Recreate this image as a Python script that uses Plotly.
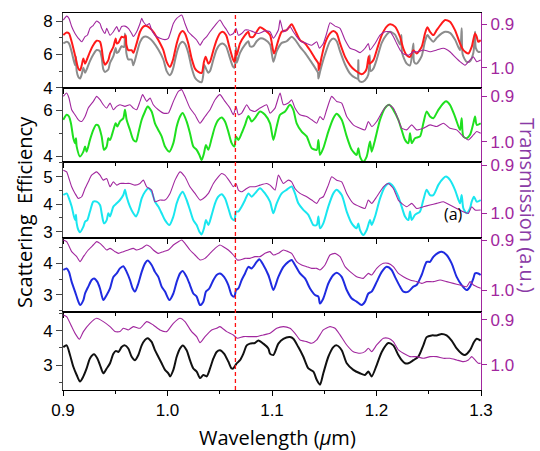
import plotly.graph_objects as go

# ---------------- data (wavelength in um) ----------------
red_pts = [(0.9003,7.17),(0.9035,7.33),(0.9057,7.27),(0.9083,6.77),(0.9115,5.96),(0.9147,5.15),(0.9163,5.05),(0.9179,5.35),(0.9195,5.76),(0.9211,5.45),(0.9233,5.76),(0.9258,6.16),(0.9290,6.57),(0.9322,6.83),(0.9354,6.77),(0.9370,6.36),(0.9386,5.66),(0.9402,5.39),(0.9434,5.66),(0.9450,6.06),(0.9482,6.46),(0.9504,6.97),(0.9514,6.67),(0.9530,6.71),(0.9561,7.07),(0.9584,7.03),(0.9600,7.15),(0.9606,6.60),(0.9625,6.26),(0.9657,6.26),(0.9673,6.10),(0.9705,6.67),(0.9737,7.37),(0.9769,7.68),(0.9801,7.72),(0.9833,7.58),(0.9864,7.37),(0.9912,6.87),(0.9960,6.26),(0.9992,5.56),(1.0024,5.25),(1.0040,5.45),(1.0056,5.76),(1.0088,6.67),(1.0120,7.27),(1.0145,7.41),(1.0167,7.27),(1.0199,6.67),(1.0231,5.76),(1.0263,5.15),(1.0295,4.95),(1.0327,4.89),(1.0349,5.56),(1.0365,5.86),(1.0391,5.45),(1.0407,5.56),(1.0439,6.26),(1.0470,6.87),(1.0502,7.27),(1.0528,7.37),(1.0560,7.17),(1.0592,6.46),(1.0624,5.76),(1.0640,5.56),(1.0656,6.16),(1.0662,5.96),(1.0694,6.67),(1.0742,7.17),(1.0774,7.37),(1.0789,7.07),(1.0821,7.07),(1.0853,7.37),(1.0885,7.64),(1.0933,7.47),(1.0981,7.17),(1.1019,6.06),(1.1061,6.87),(1.1093,7.37),(1.1140,7.47),(1.1188,7.82),(1.1220,7.47),(1.1268,6.87),(1.1316,6.67),(1.1364,6.26),(1.1412,5.76),(1.1444,5.45),(1.1447,5.05),(1.1475,5.86),(1.1507,6.67),(1.1555,7.27),(1.1587,7.41),(1.1619,7.27),(1.1651,6.67),(1.1699,5.86),(1.1747,5.35),(1.1794,5.05),(1.1842,4.85),(1.1858,4.81),(1.1890,4.95),(1.1906,5.15),(1.1925,5.90),(1.1932,5.45),(1.1970,5.66),(1.2002,6.26),(1.2050,7.17),(1.2097,7.68),(1.2129,7.82),(1.2177,7.68),(1.2225,7.07),(1.2257,6.36),(1.2289,5.96),(1.2321,5.86),(1.2353,6.26),(1.2384,6.06),(1.2432,6.46),(1.2464,7.27),(1.2487,7.64),(1.2512,7.37),(1.2544,7.17),(1.2576,7.47),(1.2624,7.88),(1.2656,8.08),(1.2703,7.98),(1.2751,7.47),(1.2799,6.67),(1.2831,6.26),(1.2879,6.06),(1.2911,6.46),(1.2943,7.27),(1.2959,7.07),(1.2974,6.77),(1.2997,6.87)]

gray_pts = [(0.9003,6.67),(0.9035,6.77),(0.9057,6.67),(0.9083,6.16),(0.9115,5.35),(0.9124,5.86),(0.9131,5.00),(0.9147,4.65),(0.9163,4.55),(0.9179,4.80),(0.9195,5.20),(0.9211,4.90),(0.9233,5.20),(0.9258,5.60),(0.9290,6.00),(0.9322,6.27),(0.9354,6.20),(0.9370,5.80),(0.9386,5.10),(0.9402,4.95),(0.9434,5.10),(0.9450,5.50),(0.9482,5.90),(0.9504,6.40),(0.9514,6.10),(0.9530,6.15),(0.9561,6.50),(0.9584,6.45),(0.9593,7.27),(0.9603,6.50),(0.9606,6.10),(0.9625,5.70),(0.9657,5.70),(0.9673,5.35),(0.9705,6.05),(0.9737,6.75),(0.9769,7.05),(0.9801,7.07),(0.9833,6.95),(0.9864,6.75),(0.9912,6.30),(0.9960,5.70),(0.9992,5.00),(1.0024,4.75),(1.0040,4.90),(1.0056,5.20),(1.0088,6.10),(1.0120,6.65),(1.0145,6.77),(1.0167,6.65),(1.0199,6.10),(1.0231,5.20),(1.0263,4.60),(1.0295,4.40),(1.0327,4.34),(1.0343,4.80),(1.0349,5.40),(1.0365,5.20),(1.0391,4.90),(1.0407,5.00),(1.0439,5.70),(1.0470,6.30),(1.0502,6.60),(1.0528,6.67),(1.0560,6.50),(1.0592,5.90),(1.0624,5.30),(1.0640,5.20),(1.0656,6.46),(1.0662,5.50),(1.0694,6.10),(1.0742,6.60),(1.0774,6.80),(1.0789,6.50),(1.0821,6.50),(1.0853,6.80),(1.0885,6.97),(1.0933,6.90),(1.0981,6.60),(1.1013,5.56),(1.1045,6.20),(1.1093,6.70),(1.1140,6.80),(1.1188,7.07),(1.1220,6.90),(1.1268,6.46),(1.1316,6.10),(1.1364,5.66),(1.1412,5.20),(1.1440,4.90),(1.1444,4.55),(1.1459,4.95),(1.1507,6.00),(1.1555,6.80),(1.1587,6.97),(1.1619,6.80),(1.1651,6.20),(1.1699,5.40),(1.1747,4.85),(1.1794,4.60),(1.1822,4.55),(1.1826,5.66),(1.1830,4.45),(1.1858,4.34),(1.1890,4.45),(1.1922,4.80),(1.1935,5.96),(1.1944,5.00),(1.1970,5.15),(1.2002,5.70),(1.2050,6.70),(1.2097,7.20),(1.2129,7.37),(1.2177,7.20),(1.2225,6.60),(1.2238,7.17),(1.2245,6.10),(1.2289,5.45),(1.2321,5.35),(1.2353,6.67),(1.2360,5.55),(1.2384,5.45),(1.2432,5.90),(1.2464,6.80),(1.2487,7.17),(1.2512,6.97),(1.2544,6.77),(1.2576,7.00),(1.2624,7.27),(1.2656,7.37),(1.2703,7.30),(1.2751,6.90),(1.2799,6.26),(1.2815,7.58),(1.2825,6.00),(1.2863,5.56),(1.2895,5.60),(1.2927,6.10),(1.2943,7.37),(1.2950,6.40),(1.2974,6.16),(1.2997,6.16)]

trans1_pts = [(0.9003,0.890),(0.9035,0.881),(0.9057,0.886),(0.9083,0.905),(0.9115,0.921),(0.9147,0.932),(0.9179,0.940),(0.9211,0.928),(0.9233,0.925),(0.9258,0.909),(0.9290,0.902),(0.9322,0.892),(0.9354,0.898),(0.9370,0.909),(0.9402,0.921),(0.9418,0.909),(0.9450,0.925),(0.9482,0.917),(0.9514,0.905),(0.9536,0.917),(0.9561,0.905),(0.9593,0.904),(0.9625,0.909),(0.9657,0.921),(0.9673,0.928),(0.9705,0.917),(0.9737,0.898),(0.9753,0.886),(0.9769,0.894),(0.9801,0.902),(0.9826,0.898),(0.9848,0.913),(0.9880,0.925),(0.9928,0.932),(0.9976,0.935),(1.0008,0.932),(1.0056,0.898),(1.0088,0.886),(1.0136,0.8785),(1.0167,0.898),(1.0199,0.917),(1.0231,0.925),(1.0279,0.936),(1.0311,0.948),(1.0343,0.936),(1.0375,0.928),(1.0407,0.917),(1.0455,0.902),(1.0502,0.890),(1.0534,0.902),(1.0566,0.913),(1.0598,0.925),(1.0630,0.921),(1.0656,0.909),(1.0678,0.925),(1.0710,0.921),(1.0742,0.913),(1.0774,0.913),(1.0821,0.917),(1.0869,0.921),(1.0933,0.915),(1.0981,0.917),(1.1013,0.932),(1.1061,0.913),(1.1077,0.890),(1.1109,0.917),(1.1140,0.913),(1.1172,0.905),(1.1204,0.917),(1.1236,0.928),(1.1284,0.940),(1.1332,0.944),(1.1380,0.948),(1.1428,0.940),(1.1453,0.955),(1.1491,0.944),(1.1523,0.921),(1.1555,0.896),(1.1603,0.904),(1.1651,0.909),(1.1699,0.936),(1.1747,0.955),(1.1794,0.959),(1.1842,0.965),(1.1890,0.955),(1.1922,0.944),(1.1938,0.959),(1.1986,0.944),(1.2034,0.925),(1.2081,0.917),(1.2129,0.917),(1.2161,0.928),(1.2193,0.944),(1.2225,0.959),(1.2257,0.968),(1.2305,0.971),(1.2353,0.963),(1.2400,0.963),(1.2448,0.959),(1.2512,0.963),(1.2576,0.959),(1.2640,0.955),(1.2703,0.963),(1.2751,0.975),(1.2799,0.986),(1.2847,0.994),(1.2895,0.982),(1.2927,0.975),(1.2959,0.986),(1.2997,0.982)]

green_pts = [(0.9003,5.58),(0.9035,5.80),(0.9057,5.72),(0.9076,5.43),(0.9099,4.78),(0.9115,4.57),(0.9124,4.78),(0.9131,4.42),(0.9163,3.99),(0.9195,4.20),(0.9211,4.42),(0.9226,4.20),(0.9258,4.71),(0.9290,5.14),(0.9316,5.36),(0.9338,5.33),(0.9370,4.86),(0.9392,4.28),(0.9418,4.42),(0.9434,4.78),(0.9450,4.71),(0.9482,5.14),(0.9504,5.43),(0.9520,5.29),(0.9545,5.51),(0.9577,5.65),(0.9593,6.01),(0.9609,5.58),(0.9641,5.14),(0.9673,4.71),(0.9699,4.64),(0.9721,5.00),(0.9753,5.58),(0.9785,5.94),(0.9810,6.16),(0.9848,5.94),(0.9880,5.43),(0.9912,5.14),(0.9944,4.86),(0.9976,4.42),(1.0018,4.20),(1.0056,4.57),(1.0088,5.29),(1.0120,5.72),(1.0145,5.87),(1.0183,5.51),(1.0215,5.00),(1.0247,4.42),(1.0279,4.28),(1.0305,4.06),(1.0327,3.84),(1.0349,4.13),(1.0368,4.49),(1.0391,4.28),(1.0423,4.78),(1.0455,5.29),(1.0486,5.58),(1.0518,5.68),(1.0550,5.51),(1.0582,5.07),(1.0614,4.57),(1.0640,4.42),(1.0656,4.86),(1.0678,4.71),(1.0710,5.00),(1.0742,5.36),(1.0774,5.75),(1.0805,5.51),(1.0837,5.65),(1.0885,5.94),(1.0933,5.80),(1.0981,5.43),(1.1013,4.71),(1.1045,5.29),(1.1077,5.80),(1.1125,5.94),(1.1172,6.23),(1.1204,6.01),(1.1236,5.43),(1.1284,5.07),(1.1332,4.86),(1.1380,4.35),(1.1428,4.28),(1.1444,4.71),(1.1459,4.06),(1.1491,4.35),(1.1539,5.07),(1.1587,5.65),(1.1619,5.84),(1.1667,5.58),(1.1715,4.86),(1.1763,4.28),(1.1810,4.06),(1.1826,4.35),(1.1842,3.99),(1.1874,3.77),(1.1906,3.99),(1.1938,4.64),(1.1954,4.20),(1.1986,4.71),(1.2034,5.58),(1.2081,6.09),(1.2123,6.23),(1.2161,6.01),(1.2209,5.58),(1.2241,5.14),(1.2273,4.71),(1.2305,4.57),(1.2321,5.00),(1.2337,4.57),(1.2368,4.78),(1.2416,4.86),(1.2448,5.43),(1.2480,5.94),(1.2512,5.72),(1.2544,5.65),(1.2592,6.01),(1.2640,6.30),(1.2665,6.38),(1.2703,6.23),(1.2751,5.72),(1.2799,5.14),(1.2815,5.65),(1.2831,4.86),(1.2863,4.78),(1.2895,4.93),(1.2927,5.43),(1.2943,5.72),(1.2959,5.36),(1.2997,5.43)]

trans2_pts = [(0.9003,0.9007),(0.9035,0.8934),(0.9057,0.9044),(0.9083,0.9302),(0.9115,0.9412),(0.9147,0.9522),(0.9179,0.9559),(0.9211,0.9449),(0.9242,0.9265),(0.9290,0.9118),(0.9322,0.9007),(0.9354,0.9081),(0.9386,0.9191),(0.9418,0.9265),(0.9450,0.9155),(0.9482,0.9302),(0.9514,0.9228),(0.9545,0.9191),(0.9593,0.9228),(0.9641,0.9191),(0.9673,0.9265),(0.9705,0.9302),(0.9737,0.9118),(0.9762,0.8970),(0.9801,0.9118),(0.9833,0.9044),(0.9864,0.9191),(0.9912,0.9302),(0.9960,0.9375),(1.0008,0.9375),(1.0056,0.9118),(1.0104,0.8897),(1.0136,0.8860),(1.0167,0.9007),(1.0215,0.9265),(1.0263,0.9412),(1.0311,0.9596),(1.0359,0.9449),(1.0407,0.9302),(1.0455,0.9081),(1.0502,0.8970),(1.0550,0.9118),(1.0598,0.9265),(1.0630,0.9412),(1.0656,0.9228),(1.0678,0.9412),(1.0710,0.9375),(1.0758,0.9191),(1.0789,0.9302),(1.0837,0.9339),(1.0885,0.9265),(1.0949,0.9191),(1.0981,0.9375),(1.1029,0.9265),(1.1077,0.8934),(1.1109,0.9191),(1.1156,0.9155),(1.1188,0.9081),(1.1220,0.9265),(1.1268,0.9412),(1.1332,0.9449),(1.1380,0.9522),(1.1428,0.9596),(1.1459,0.9449),(1.1491,0.9522),(1.1523,0.9302),(1.1571,0.9007),(1.1619,0.9118),(1.1667,0.9155),(1.1715,0.9449),(1.1778,0.9633),(1.1842,0.9706),(1.1890,0.9743),(1.1922,0.9559),(1.1954,0.9670),(1.2002,0.9559),(1.2066,0.9302),(1.2113,0.9191),(1.2161,0.9265),(1.2209,0.9522),(1.2241,0.9706),(1.2289,0.9743),(1.2337,0.9633),(1.2384,0.9743),(1.2448,0.9706),(1.2512,0.9633),(1.2576,0.9670),(1.2640,0.9596),(1.2703,0.9706),(1.2767,0.9743),(1.2831,0.9890),(1.2879,0.9964),(1.2927,0.9854),(1.2959,0.9780),(1.2997,0.9817)]

cyan_pts = [(0.9003,4.33),(0.9035,4.39),(0.9057,4.21),(0.9083,3.91),(0.9105,3.55),(0.9118,3.42),(0.9124,3.61),(0.9131,3.30),(0.9147,3.06),(0.9163,2.98),(0.9195,3.18),(0.9211,3.36),(0.9233,3.42),(0.9258,3.73),(0.9290,4.09),(0.9322,4.09),(0.9354,3.97),(0.9370,3.67),(0.9392,3.30),(0.9418,3.42),(0.9434,3.67),(0.9450,3.55),(0.9482,3.91),(0.9514,4.03),(0.9545,4.15),(0.9577,4.33),(0.9593,4.52),(0.9609,4.27),(0.9641,3.91),(0.9673,3.67),(0.9699,3.55),(0.9721,3.73),(0.9753,4.21),(0.9785,4.45),(0.9817,4.58),(0.9848,4.45),(0.9880,4.09),(0.9912,3.91),(0.9944,3.67),(0.9976,3.42),(1.0018,3.24),(1.0056,3.55),(1.0088,4.03),(1.0120,4.33),(1.0145,4.45),(1.0183,4.15),(1.0215,3.79),(1.0247,3.42),(1.0279,3.24),(1.0305,3.00),(1.0327,2.90),(1.0349,3.12),(1.0368,3.42),(1.0391,3.24),(1.0423,3.61),(1.0455,4.03),(1.0486,4.27),(1.0518,4.36),(1.0550,4.21),(1.0582,3.85),(1.0614,3.48),(1.0640,3.42),(1.0656,3.73),(1.0678,3.73),(1.0710,3.91),(1.0742,4.15),(1.0774,4.39),(1.0805,4.27),(1.0837,4.39),(1.0885,4.58),(1.0933,4.39),(1.0981,4.09),(1.1013,3.67),(1.1045,4.03),(1.1093,4.39),(1.1140,4.52),(1.1188,4.64),(1.1220,4.39),(1.1252,4.03),(1.1300,3.79),(1.1348,3.61),(1.1396,3.24),(1.1428,3.24),(1.1444,3.55),(1.1459,3.12),(1.1491,3.30),(1.1539,3.91),(1.1587,4.39),(1.1619,4.52),(1.1667,4.33),(1.1715,3.73),(1.1763,3.30),(1.1810,3.12),(1.1826,3.30),(1.1842,3.06),(1.1874,2.88),(1.1906,3.06),(1.1938,3.42),(1.1954,3.24),(1.1986,3.55),(1.2034,4.21),(1.2081,4.64),(1.2123,4.76),(1.2161,4.64),(1.2209,4.27),(1.2241,3.91),(1.2273,3.55),(1.2305,3.42),(1.2321,3.73),(1.2337,3.42),(1.2368,3.61),(1.2416,3.73),(1.2448,4.15),(1.2480,4.52),(1.2512,4.33),(1.2544,4.33),(1.2592,4.70),(1.2640,4.94),(1.2665,5.00),(1.2703,4.88),(1.2751,4.52),(1.2799,4.03),(1.2815,4.33),(1.2831,3.85),(1.2863,3.67),(1.2895,3.85),(1.2911,4.09),(1.2933,4.27),(1.2959,4.09),(1.2997,4.15)]

trans3_pts = [(0.9003,0.9103),(0.9035,0.9138),(0.9057,0.9276),(0.9083,0.9448),(0.9115,0.9586),(0.9147,0.9690),(0.9179,0.9655),(0.9211,0.9483),(0.9242,0.9345),(0.9274,0.9207),(0.9322,0.9138),(0.9354,0.9207),(0.9386,0.9310),(0.9418,0.9276),(0.9450,0.9448),(0.9482,0.9345),(0.9514,0.9414),(0.9545,0.9379),(0.9593,0.9379),(0.9641,0.9379),(0.9689,0.9414),(0.9737,0.9379),(0.9769,0.9310),(0.9801,0.9448),(0.9848,0.9517),(0.9880,0.9759),(0.9928,0.9724),(0.9976,0.9724),(1.0024,0.9586),(1.0072,0.9310),(1.0120,0.9138),(1.0167,0.9241),(1.0215,0.9448),(1.0263,0.9586),(1.0311,0.9724),(1.0343,0.9690),(1.0391,0.9586),(1.0439,0.9379),(1.0486,0.9241),(1.0518,0.9172),(1.0550,0.9207),(1.0598,0.9345),(1.0630,0.9448),(1.0656,0.9379),(1.0678,0.9517),(1.0710,0.9552),(1.0758,0.9483),(1.0789,0.9448),(1.0837,0.9448),(1.0885,0.9414),(1.0949,0.9379),(1.0981,0.9414),(1.1029,0.9517),(1.1061,0.9207),(1.1109,0.9379),(1.1156,0.9310),(1.1188,0.9345),(1.1220,0.9483),(1.1268,0.9586),(1.1332,0.9655),(1.1380,0.9724),(1.1428,0.9793),(1.1459,0.9690),(1.1491,0.9655),(1.1539,0.9414),(1.1571,0.9241),(1.1619,0.9310),(1.1667,0.9345),(1.1715,0.9586),(1.1778,0.9793),(1.1842,0.9862),(1.1890,0.9897),(1.1922,0.9724),(1.1954,0.9793),(1.2002,0.9655),(1.2066,0.9448),(1.2113,0.9379),(1.2161,0.9483),(1.2209,0.9724),(1.2241,0.9793),(1.2289,0.9862),(1.2337,0.9793),(1.2384,0.9897),(1.2448,0.9862),(1.2512,0.9828),(1.2576,0.9793),(1.2640,0.9759),(1.2703,0.9828),(1.2767,0.9897),(1.2831,0.9966),(1.2879,1.0000),(1.2911,0.9862),(1.2943,0.9931),(1.2997,0.9931)]

blue_pts = [(0.9003,3.79),(0.9035,3.84),(0.9057,3.73),(0.9083,3.41),(0.9115,3.10),(0.9147,2.78),(0.9163,2.67),(0.9195,2.83),(0.9211,3.04),(0.9242,3.26),(0.9274,3.47),(0.9297,3.52),(0.9329,3.41),(0.9354,3.20),(0.9386,2.83),(0.9418,2.99),(0.9450,3.20),(0.9482,3.57),(0.9514,3.68),(0.9545,3.84),(0.9577,3.91),(0.9609,3.73),(0.9641,3.47),(0.9667,3.20),(0.9689,3.10),(0.9721,3.36),(0.9753,3.73),(0.9785,4.00),(0.9810,4.09),(0.9848,3.95),(0.9880,3.73),(0.9912,3.57),(0.9944,3.26),(0.9976,3.10),(1.0018,2.83),(1.0056,3.04),(1.0088,3.41),(1.0120,3.68),(1.0145,3.76),(1.0183,3.57),(1.0215,3.31),(1.0247,3.04),(1.0279,2.94),(1.0311,2.67),(1.0343,2.78),(1.0368,3.10),(1.0400,3.20),(1.0439,3.47),(1.0470,3.63),(1.0502,3.68),(1.0541,3.57),(1.0582,3.31),(1.0614,2.99),(1.0640,2.94),(1.0656,3.15),(1.0678,3.20),(1.0710,3.47),(1.0742,3.68),(1.0774,3.89),(1.0805,3.84),(1.0853,4.05),(1.0879,4.13),(1.0917,3.95),(1.0965,3.63),(1.0981,3.47),(1.1013,3.15),(1.1061,3.57),(1.1109,3.89),(1.1156,4.05),(1.1188,4.11),(1.1220,3.95),(1.1268,3.68),(1.1316,3.52),(1.1364,3.20),(1.1412,2.99),(1.1444,2.94),(1.1459,2.72),(1.1491,2.88),(1.1539,3.36),(1.1587,3.63),(1.1619,3.70),(1.1667,3.57),(1.1715,3.15),(1.1763,2.88),(1.1810,2.78),(1.1858,2.67),(1.1890,2.78),(1.1922,3.04),(1.1954,3.10),(1.2002,3.41),(1.2050,3.73),(1.2097,3.89),(1.2145,3.79),(1.2177,3.57),(1.2225,3.26),(1.2257,3.10),(1.2305,3.10),(1.2353,3.26),(1.2384,3.31),(1.2432,3.63),(1.2480,4.05),(1.2512,4.05),(1.2544,4.21),(1.2592,4.34),(1.2624,4.37),(1.2671,4.27),(1.2719,4.00),(1.2767,3.57),(1.2815,3.31),(1.2863,3.15),(1.2895,3.26),(1.2927,3.52),(1.2943,3.68),(1.2974,3.68),(1.2997,3.63)]

trans4_pts = [(0.9003,0.9000),(0.9035,0.9033),(0.9083,0.9233),(0.9131,0.9333),(0.9163,0.9433),(0.9195,0.9333),(0.9242,0.9200),(0.9290,0.9100),(0.9322,0.9033),(0.9354,0.9067),(0.9386,0.9133),(0.9418,0.9200),(0.9450,0.9167),(0.9498,0.9233),(0.9530,0.9267),(0.9577,0.9233),(0.9625,0.9200),(0.9673,0.9167),(0.9705,0.9200),(0.9753,0.9167),(0.9801,0.9100),(0.9833,0.9133),(0.9864,0.9200),(0.9912,0.9267),(0.9960,0.9233),(1.0008,0.9200),(1.0056,0.9100),(1.0104,0.9033),(1.0136,0.9000),(1.0167,0.9067),(1.0215,0.9200),(1.0263,0.9300),(1.0311,0.9400),(1.0359,0.9367),(1.0407,0.9267),(1.0455,0.9167),(1.0502,0.9100),(1.0534,0.9133),(1.0582,0.9200),(1.0630,0.9300),(1.0668,0.9400),(1.0694,0.9400),(1.0742,0.9367),(1.0789,0.9367),(1.0837,0.9333),(1.0885,0.9333),(1.0933,0.9267),(1.0981,0.9233),(1.1013,0.9300),(1.1061,0.9267),(1.1109,0.9200),(1.1156,0.9233),(1.1188,0.9267),(1.1236,0.9433),(1.1284,0.9500),(1.1332,0.9533),(1.1380,0.9567),(1.1428,0.9567),(1.1459,0.9600),(1.1507,0.9500),(1.1555,0.9300),(1.1603,0.9267),(1.1651,0.9333),(1.1699,0.9533),(1.1747,0.9633),(1.1810,0.9733),(1.1874,0.9767),(1.1922,0.9667),(1.1954,0.9700),(1.2002,0.9567),(1.2066,0.9467),(1.2113,0.9467),(1.2161,0.9533),(1.2209,0.9667),(1.2257,0.9733),(1.2321,0.9800),(1.2384,0.9833),(1.2432,0.9867),(1.2480,0.9833),(1.2544,0.9833),(1.2608,0.9800),(1.2671,0.9833),(1.2735,0.9867),(1.2799,0.9900),(1.2863,0.9933),(1.2895,0.9833),(1.2927,0.9900),(1.2959,0.9933),(1.2997,0.9967)]

black_pts = [(0.9003,3.52),(0.9035,3.57),(0.9067,3.29),(0.9099,2.95),(0.9131,2.71),(0.9163,2.52),(0.9195,2.67),(0.9226,2.90),(0.9258,3.19),(0.9297,3.31),(0.9329,3.19),(0.9354,3.00),(0.9386,2.76),(0.9418,2.90),(0.9450,3.05),(0.9482,3.33),(0.9507,3.41),(0.9530,3.38),(0.9561,3.52),(0.9593,3.57),(0.9625,3.48),(0.9657,3.24),(0.9689,3.14),(0.9721,3.29),(0.9753,3.57),(0.9785,3.73),(0.9810,3.78),(0.9848,3.67),(0.9880,3.43),(0.9912,3.24),(0.9944,3.05),(0.9976,2.86),(1.0008,2.76),(1.0024,2.67),(1.0056,2.86),(1.0088,3.24),(1.0120,3.48),(1.0145,3.57),(1.0183,3.43),(1.0215,3.14),(1.0247,2.90),(1.0279,2.81),(1.0311,2.62),(1.0343,2.71),(1.0375,2.67),(1.0407,2.90),(1.0439,3.19),(1.0470,3.38),(1.0502,3.43),(1.0541,3.33),(1.0582,3.10),(1.0614,2.90),(1.0630,2.90),(1.0662,3.05),(1.0694,3.14),(1.0726,3.33),(1.0758,3.57),(1.0789,3.62),(1.0837,3.64),(1.0869,3.71),(1.0917,3.62),(1.0965,3.48),(1.0981,3.33),(1.1013,3.29),(1.1061,3.62),(1.1109,3.76),(1.1172,3.81),(1.1204,3.76),(1.1252,3.52),(1.1300,3.24),(1.1348,2.90),(1.1396,2.81),(1.1428,2.57),(1.1459,2.43),(1.1491,2.76),(1.1539,3.24),(1.1587,3.52),(1.1619,3.57),(1.1667,3.43),(1.1715,3.05),(1.1778,2.86),(1.1842,2.76),(1.1890,2.71),(1.1922,2.81),(1.1954,2.67),(1.2002,3.00),(1.2050,3.38),(1.2113,3.64),(1.2161,3.57),(1.2209,3.29),(1.2241,3.14),(1.2273,3.05),(1.2305,3.05),(1.2353,3.14),(1.2400,3.24),(1.2448,3.57),(1.2480,3.81),(1.2528,3.86),(1.2576,3.86),(1.2624,3.90),(1.2671,3.86),(1.2719,3.71),(1.2767,3.48),(1.2815,3.33),(1.2847,3.29),(1.2895,3.43),(1.2933,3.67),(1.2959,3.76),(1.2997,3.71)]

trans5_pts = [(0.9003,0.8889),(0.9035,0.8926),(0.9083,0.9148),(0.9115,0.9296),(0.9157,0.9430),(0.9195,0.9259),(0.9258,0.9074),(0.9322,0.8963),(0.9386,0.9037),(0.9450,0.9148),(0.9498,0.9259),(0.9545,0.9259),(0.9577,0.9185),(0.9625,0.9222),(0.9673,0.9148),(0.9737,0.9185),(0.9801,0.9037),(0.9864,0.9111),(0.9928,0.9222),(0.9992,0.9259),(1.0056,0.9074),(1.0120,0.8963),(1.0167,0.9037),(1.0231,0.9259),(1.0279,0.9370),(1.0311,0.9504),(1.0359,0.9370),(1.0423,0.9222),(1.0470,0.9185),(1.0502,0.9148),(1.0566,0.9259),(1.0630,0.9333),(1.0668,0.9407),(1.0726,0.9370),(1.0789,0.9370),(1.0853,0.9370),(1.0917,0.9333),(1.0981,0.9296),(1.1045,0.9185),(1.1109,0.9148),(1.1172,0.9185),(1.1220,0.9296),(1.1268,0.9444),(1.1332,0.9481),(1.1380,0.9519),(1.1428,0.9444),(1.1491,0.9222),(1.1555,0.9148),(1.1603,0.9185),(1.1651,0.9333),(1.1715,0.9556),(1.1778,0.9704),(1.1842,0.9741),(1.1890,0.9704),(1.1922,0.9630),(1.1954,0.9704),(1.2002,0.9556),(1.2066,0.9407),(1.2113,0.9407),(1.2161,0.9481),(1.2209,0.9667),(1.2257,0.9741),(1.2321,0.9815),(1.2384,0.9815),(1.2448,0.9852),(1.2512,0.9815),(1.2576,0.9815),(1.2640,0.9852),(1.2703,0.9852),(1.2767,0.9889),(1.2831,0.9926),(1.2879,0.9889),(1.2911,0.9815),(1.2943,0.9889),(1.2974,0.9963),(1.2997,0.9963)]

dashed_wavelength = 1.065
x_ticks = [0.9, 1.0, 1.1, 1.2, 1.3]
t_ticks = [0.9, 1.0]

# ---------------- style ----------------
PURPLE = "#a1279e"
TITLE_PURPLE = "#8a3aa6"
TICKFONT = dict(family="Liberation Sans, Arial, sans-serif", size=17, color="black")
W, H = 540, 451
X0, X1 = 63 / W, 481 / W
tops = [12.7, 87.7, 162.3, 237.7, 312.3]
bots = [87.7, 162.3, 237.7, 312.3, 390.0]

panels = [
    dict(series=[(gray_pts, "#8c8c8c"), (red_pts, "#ff1a1a")], trans=trans1_pts,
         yrange=[4.0, 8.52], tick0=4, dtick=2, minor=1, trange=[1.046, 0.873]),
    dict(series=[(green_pts, "#1fe01f")], trans=trans2_pts,
         yrange=[3.74, 6.97], tick0=4, dtick=2, minor=1, trange=[1.0455, 0.8817]),
    dict(series=[(cyan_pts, "#19e6ef")], trans=trans3_pts,
         yrange=[2.78, 5.52], tick0=3, dtick=1, minor=0.5, trange=[1.0505, 0.894]),
    dict(series=[(blue_pts, "#1f2be0")], trans=trans4_pts,
         yrange=[2.44, 4.82], tick0=3, dtick=1, minor=0.5, trange=[1.0446, 0.8954]),
    dict(series=[(black_pts, "#111111")], trans=trans5_pts,
         yrange=[2.275, 4.53], tick0=3, dtick=1, minor=0.5, trange=[1.0556, 0.883]),
]

fig = go.Figure()
layout = {}
for i, p in enumerate(panels):
    n = i + 1
    xname = "x" if n == 1 else f"x{n}"
    ylname = "y" if n == 1 else f"y{2 * n - 1}"
    yrname = f"y{2 * n}"
    dom = [1 - bots[i] / H, 1 - tops[i] / H]
    for pts, col in p["series"]:
        fig.add_trace(go.Scatter(x=[a for a, _ in pts], y=[b for _, b in pts], mode="lines",
                                 line=dict(color=col, width=2, shape="spline", smoothing=0.7),
                                 xaxis=xname, yaxis=ylname, showlegend=False, hoverinfo="skip"))
    fig.add_trace(go.Scatter(x=[a for a, _ in p["trans"]], y=[b for _, b in p["trans"]], mode="lines",
                             line=dict(color=PURPLE, width=1.1, shape="spline", smoothing=0.5),
                             xaxis=xname, yaxis=yrname, showlegend=False, hoverinfo="skip"))
    layout["xaxis" if n == 1 else f"xaxis{n}"] = dict(
        domain=[X0, X1], anchor=ylname, range=[0.9, 1.3], showline=True, mirror=True,
        linecolor="black", linewidth=1, ticks="outside", ticklen=5, tickwidth=1, tickcolor="black",
        tickmode="array", tickvals=x_ticks, ticktext=[f"{v:.1f}" for v in x_ticks],
        minor=dict(dtick=0.05, tick0=0.9, ticks="outside", ticklen=3, tickcolor="black"),
        showticklabels=(n == 5), tickfont=TICKFONT, showgrid=False, zeroline=False,
        automargin=False)
    layout["yaxis" if n == 1 else f"yaxis{2 * n - 1}"] = dict(
        domain=dom, anchor=xname, range=p["yrange"], tickmode="linear", tick0=p["tick0"],
        dtick=p["dtick"], ticks="outside", ticklen=6, tickwidth=1, tickcolor="#444",
        minor=dict(dtick=p["minor"], tick0=p["tick0"], ticks="outside", ticklen=3, tickcolor="#444"),
        showline=True, linecolor="#444", linewidth=1, mirror=False, tickfont=TICKFONT,
        showgrid=False, zeroline=False, automargin=False)
    layout[f"yaxis{2 * n}"] = dict(
        overlaying=ylname, side="right", anchor=xname, range=p["trange"],
        tickmode="array", tickvals=t_ticks, ticktext=["0.9", "1.0"], ticks="outside",
        ticklen=5, tickwidth=1, tickcolor=PURPLE, showline=True, linecolor=PURPLE, linewidth=1.2,
        tickfont=dict(family=TICKFONT["family"], size=17, color=PURPLE),
        showgrid=False, zeroline=False, automargin=False)

fig.update_layout(**layout)
fig.add_shape(type="line", xref="x", yref="paper", x0=dashed_wavelength, x1=dashed_wavelength,
              y0=1 - bots[-1] / H, y1=1 - tops[0] / H,
              line=dict(color="#ff1010", width=1.3, dash="4px,3px"))

TITLEFONT = "Open Sans, Noto Sans, sans-serif"
fig.add_annotation(text="Scattering  Efficiency", x=24 / W, y=1 - 212 / H, xref="paper", yref="paper",
                   textangle=-90, showarrow=False, xanchor="center", yanchor="middle",
                   font=dict(family=TITLEFONT, size=20, color="black"))
fig.add_annotation(text="Transmission (a.u.)", x=528 / W, y=1 - 205 / H, xref="paper", yref="paper",
                   textangle=90, showarrow=False, xanchor="center", yanchor="middle",
                   font=dict(family=TITLEFONT, size=20, color=TITLE_PURPLE))
fig.add_annotation(text="Wavelength (<i>μ</i>m)", x=277.5 / W, y=1 - 437 / H, xref="paper", yref="paper",
                   showarrow=False, xanchor="center", yanchor="middle",
                   font=dict(family=TITLEFONT, size=20, color="black"))
fig.add_annotation(text="(a)", x=453 / W, y=1 - 214 / H, xref="paper", yref="paper",
                   showarrow=False, xanchor="center", yanchor="middle",
                   font=dict(family=TITLEFONT, size=16, color="black"))

fig.update_layout(width=W, height=H, margin=dict(l=0, r=0, t=0, b=0, pad=0),
                  paper_bgcolor="white", plot_bgcolor="white", showlegend=False)
fig.write_html("out.html")
